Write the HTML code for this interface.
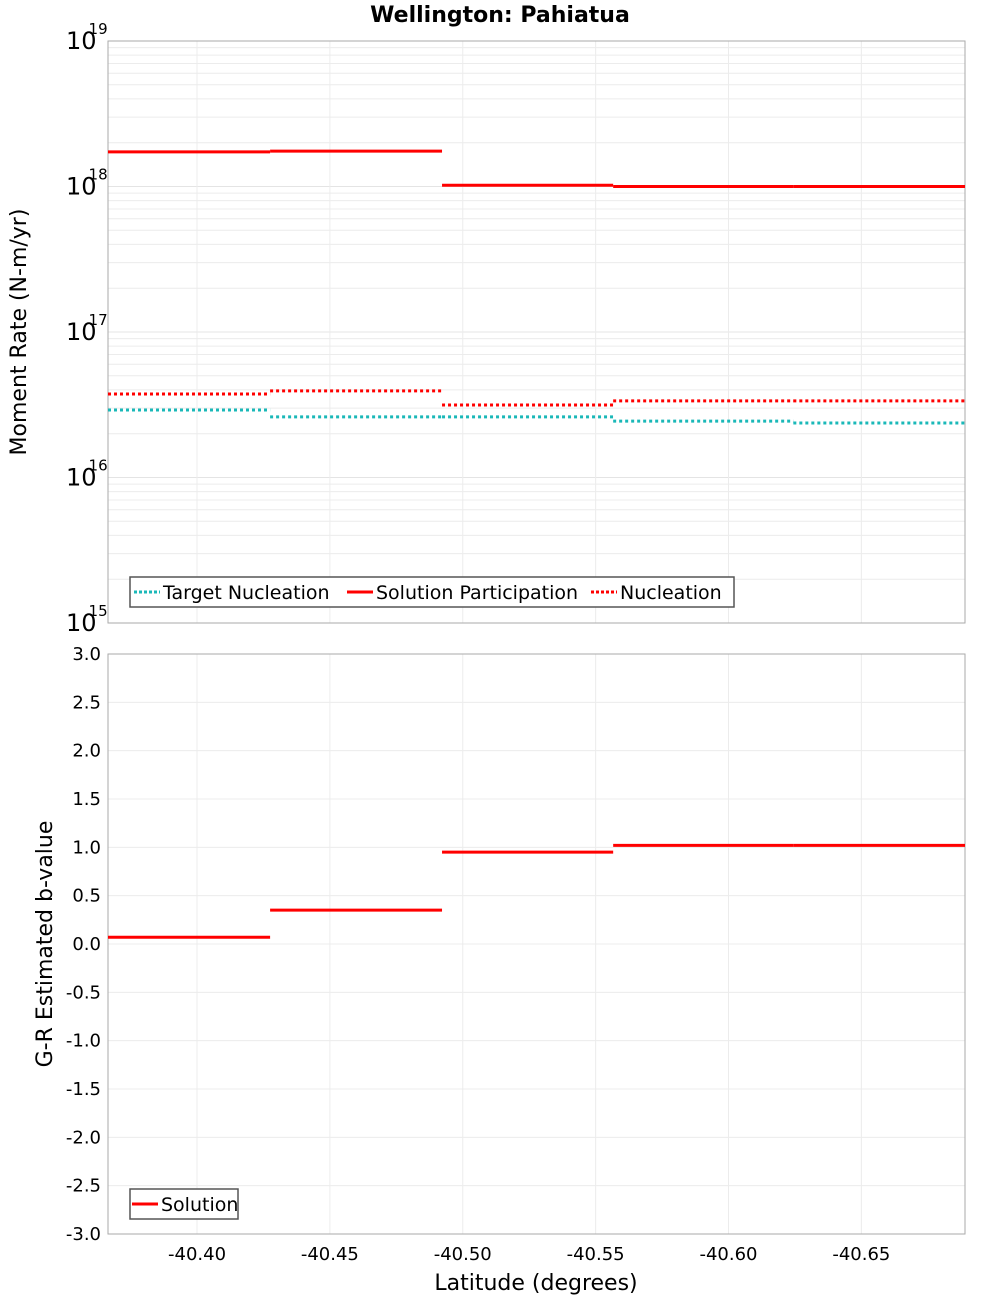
<!DOCTYPE html>
<html><head><meta charset="utf-8"><style>
html,body{margin:0;padding:0;background:#fff}
svg{display:block;font-family:"DejaVu Sans","Liberation Sans",sans-serif}
</style></head><body>
<svg id="chart" width="1000" height="1300" viewBox="0 0 1000 1300" xmlns="http://www.w3.org/2000/svg">
<rect width="1000" height="1300" fill="#fff"/>
<text x="500" y="22" text-anchor="middle" font-weight="bold" font-size="22">Wellington: Pahiatua</text>
<g id="topPlot"></g><g id="botPlot"></g>
<text transform="translate(26,332) rotate(-90)" text-anchor="middle" font-size="22">Moment Rate (N-m/yr)</text>
<text transform="translate(52,944) rotate(-90)" text-anchor="middle" font-size="22">G-R Estimated b-value</text>
<text x="536" y="1290" text-anchor="middle" font-size="22">Latitude (degrees)</text>
</svg>
<script>
// data
const segEdges = [-40.3665, -40.4275, -40.4922, -40.5566, -40.6244, -40.689];
const solutionParticipation = [1.73e18, 1.75e18, 1.02e18, 1.0e18, 1.0e18];
const nucleation = [3.75e16, 3.94e16, 3.15e16, 3.36e16, 3.36e16];
const targetNucleation = [2.91e16, 2.61e16, 2.61e16, 2.44e16, 2.37e16];
const bValue = [0.07, 0.35, 0.95, 1.02, 1.02];
const xTicks = [-40.40, -40.45, -40.50, -40.55, -40.60, -40.65];
const xTickLabels = ["-40.40", "-40.45", "-40.50", "-40.55", "-40.60", "-40.65"];
const yTicksBottom = [3.0, 2.5, 2.0, 1.5, 1.0, 0.5, 0.0, -0.5, -1.0, -1.5, -2.0, -2.5, -3.0];
const logDecades = [15, 16, 17, 18, 19];

const NS = "http://www.w3.org/2000/svg";
const L = 108, R = 965, T1 = 41, B1 = 623, T2 = 654, B2 = 1234;
const xMin = -40.3665, xMax = -40.689;
const xs = v => L + (v - xMin) / (xMax - xMin) * (R - L);
const yLog = v => T1 + (19 - Math.log10(v)) / 4 * (B1 - T1);
const yLin = v => T2 + (3 - v) / 6 * (B2 - T2);
function mk(parent, tag, attrs, text) {
  const e = document.createElementNS(NS, tag);
  for (const k in attrs) e.setAttribute(k, attrs[k]);
  if (text !== undefined) e.textContent = text;
  parent.appendChild(e); return e;
}
const topG = document.getElementById("topPlot"), botG = document.getElementById("botPlot");

for (let d = 15; d < 19; d++) for (let m = 2; m <= 9; m++) {
  const y = yLog(m * Math.pow(10, d));
  const g = mk(topG, "line", {x1: L, x2: R, y1: y, y2: y, stroke: "#ececec", "stroke-width": 1});
  
  
}
logDecades.forEach(d => {
  const y = yLog(Math.pow(10, d));
  const g = mk(topG, "line", {x1: L, x2: R, y1: y, y2: y, stroke: "#e4e4e4", "stroke-width": 1});
  
  
  const t = mk(topG, "text", {x: 66, y: y + 8, "font-size": 24});
  
  
  mk(t, "tspan", {}, "10");
  mk(t, "tspan", {dx: -8, dy: -15, "font-size": 15}, String(d));
});
yTicksBottom.forEach(v => {
  const y = yLin(v);
  const g = mk(botG, "line", {x1: L, x2: R, y1: y, y2: y, stroke: "#ececec", "stroke-width": 1});
  
  
  const t = mk(botG, "text", {x: 101, y: y + 6, "text-anchor": "end", "font-size": 18}, v.toFixed(1));
  
  
});
xTicks.forEach((v, i) => {
  const x = xs(v);
  [[T1, B1, topG], [T2, B2, botG]].forEach(([a, b, p]) => {
    const g = mk(p, "line", {x1: x, x2: x, y1: a, y2: b, stroke: "#ececec", "stroke-width": 1});
    
    
  });
  const t = mk(botG, "text", {x: x, y: 1260, "text-anchor": "middle", "font-size": 18}, xTickLabels[i]);
  
  
});
[[T1, B1, topG], [T2, B2, botG]].forEach(([a, b, p]) => {
  const r = mk(p, "rect", {x: L, y: a, width: R - L, height: b - a, fill: "none", stroke: "#aaa", "stroke-width": 1});
  
  
});
function series(p, vals, yf, color, dash, name) {
  vals.forEach((v, i) => {
    const y = yf(v);
    const attrs = {x1: xs(segEdges[i]), x2: xs(segEdges[i + 1]), y1: y, y2: y, stroke: color, "stroke-width": 3};
    if (dash) attrs["stroke-dasharray"] = "3,3";
    const l = mk(p, "line", attrs);
    
    
  });
}
series(topG, targetNucleation, yLog, "#1ab8b8", true, "target-nucleation-segment");
series(topG, nucleation, yLog, "#ff0000", true, "nucleation-segment");
series(topG, solutionParticipation, yLog, "#ff0000", false, "solution-participation-segment");
series(botG, bValue, yLin, "#ff0000", false, "solution-b-value-segment");

function legend(p, x, y, w, items, name) {
  const g = mk(p, "g", {});
  
  
  mk(g, "rect", {x: x, y: y, width: w, height: 30, fill: "#fff", stroke: "#555", "stroke-width": 1.5});
  items.forEach(it => {
    const a = {x1: it[0], x2: it[0] + 26, y1: y + 15, y2: y + 15, stroke: it[2], "stroke-width": 3};
    if (it[3]) a["stroke-dasharray"] = "3,2";
    mk(g, "line", a);
    const t = mk(g, "text", {x: it[0] + 29, y: y + 22, "font-size": 19}, it[1]);
    
    
  });
}
legend(topG, 130, 577, 604, [[134, "Target Nucleation", "#1ab8b8", true], [347, "Solution Participation", "#ff0000", false], [591, "Nucleation", "#ff0000", true]], "legend-top");
legend(botG, 130, 1189, 108, [[132, "Solution", "#ff0000", false]], "legend-bottom");
</script>
</body></html>
